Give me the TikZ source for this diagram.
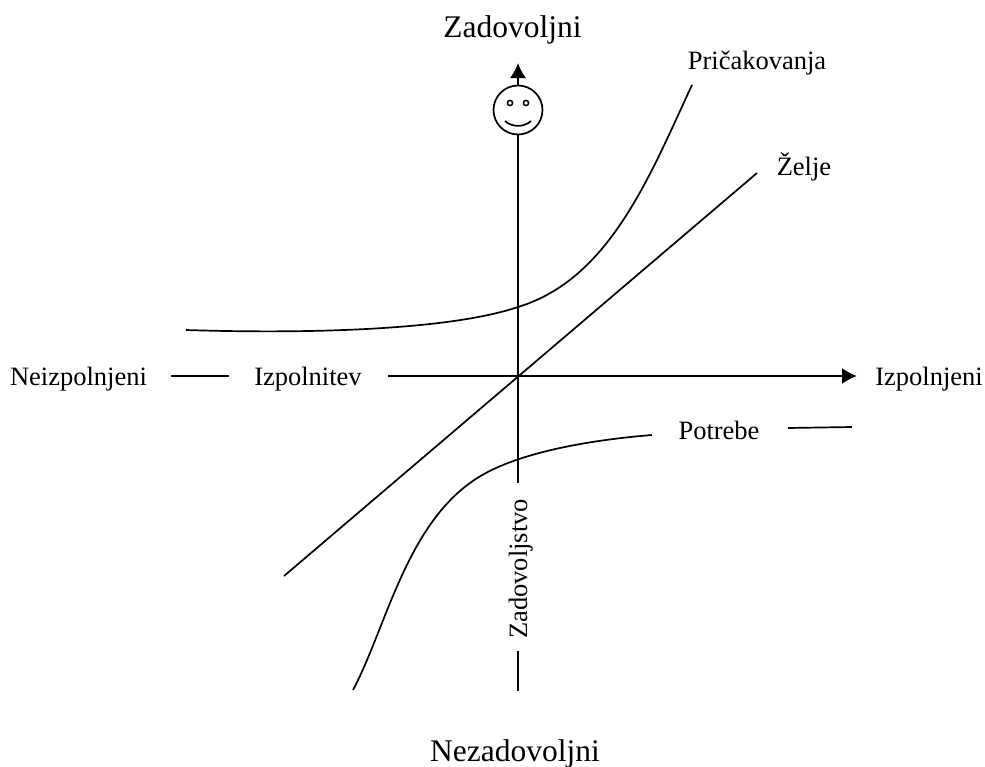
\documentclass[tikz,border=0pt]{standalone}
\usepackage{fontspec}
\setmainfont{Liberation Serif}
\usetikzlibrary{arrows.meta}
\tikzset{lbl/.style={inner sep=0pt,anchor=base,font=\fontsize{26.5pt}{30pt}\selectfont},big/.style={inner sep=0pt,anchor=base,font=\fontsize{31.5pt}{36pt}\selectfont},ln/.style={line width=1.7pt,line cap=butt},arr/.style={ln,-{Latex[length=15pt,width=16pt]}}}
\begin{document}
\begin{tikzpicture}[x=1pt,y=-1pt]
\useasboundingbox (0,0) rectangle (985,766);
\node[big] (zad) at (512.5,37) {Zadovoljni};
\node[big] (nez) at (515,761) {Nezadovoljni};
\node[lbl] (pri) at (757,69) {Pričakovanja};
\node[lbl] (zel) at (804,175) {Želje};
\node[lbl] (nei) at (78.5,385) {Neizpolnjeni};
\node[lbl] (izp) at (308,385) {Izpolnitev};
\node[lbl] (izj) at (929,385) {Izpolnjeni};
\node[lbl] (pot) at (719,439) {Potrebe};
\node[lbl,rotate=90] (zst) at (527,569) {Zadovoljstvo};
\node[circle,draw,line width=1.7pt,minimum size=49pt,inner sep=0pt] (sm) at (518,110) {};
\coordinate (eyel) at (510,103);
\coordinate (eyer) at (526,103);
\draw[line width=1.5pt] (eyel) circle (2.6pt) (eyer) circle (2.6pt);
\draw[line width=1.7pt] (505,121) .. controls (512,127.5) and (524,127.5) .. (531,121);
\coordinate (tipn) at (518,63);
\coordinate (o) at (518,376);
\coordinate (zb) at (518,483);
\coordinate (zc) at (518,651);
\coordinate (zd) at (518,691);
\coordinate (nl) at (171,376);
\coordinate (nr) at (229,376);
\coordinate (ax) at (388,376);
\coordinate (tipe) at (857,376);
\coordinate (dl) at (284,576);
\coordinate (dr) at (757,173);
\coordinate (p1) at (788,428);
\coordinate (p2) at (852,427);
\draw[arr] (sm.north) -- (tipn);
\draw[ln] (sm.south) -- (o) -- (zb);
\draw[ln] (zc) -- (zd);
\draw[ln] (nl) -- (nr);
\draw[arr] (ax) -- (tipe);
\draw[ln] (dl) -- (dr);
\draw[ln] (186,330) .. controls (310,334) and (450,330) .. (518,307) .. controls (610,279) and (650,175) .. (692,85);
\draw[ln] (353,690) .. controls (385,630) and (405,530) .. (470,483) .. controls (510,453) and (590,440) .. (652,435);
\draw[ln] (p1) -- (p2);
\end{tikzpicture}
\end{document}
